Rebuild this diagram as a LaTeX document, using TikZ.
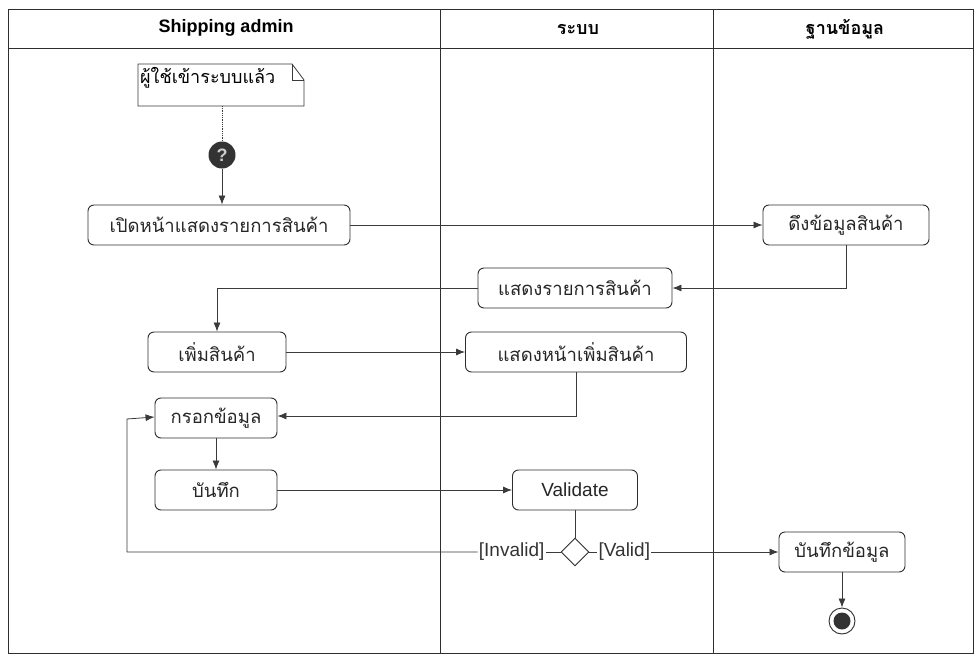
\documentclass[tikz,border=0pt]{standalone}
\usepackage{fontspec}
\setmainfont{Liberation Sans}
\newfontfamily\thai[Script=Thai]{Loma}
\usetikzlibrary{arrows.meta,shapes.geometric,calc}
\definecolor{ln}{HTML}{3A3A3A}
\definecolor{bx}{HTML}{2E2E2E}
\begin{document}
\begin{tikzpicture}[x=1pt,y=-1pt,
  lane/.style={draw=bx,line width=0.9pt},
  act/.style={draw=bx,line width=0.9pt,rounded corners=6pt,minimum height=40pt,inner sep=0pt,font=\thai\fontsize{18.5}{21}\selectfont,text=black!85},
  flow/.style={draw=ln,line width=0.8pt,-{Latex[length=9pt,width=7pt]}},
  plain/.style={draw=ln,line width=0.8pt},
  hdr/.style={font=\bfseries\fontsize{18}{20}\selectfont},
  thdr/.style={font=\thai\bfseries\fontsize{18}{20}\selectfont},
  guard/.style={inner sep=1pt,font=\fontsize{19}{21}\selectfont,text=black!80}
]
\useasboundingbox (0,0) rectangle (975,656);
\fill[white] (0,0) rectangle (975,656);
% swimlanes
\draw[lane] (8,9) rectangle (973,653);
\draw[lane] (8,48) -- (973,48);
\draw[lane] (440,9) -- (440,653);
\draw[lane] (713,9) -- (713,653);
\node[hdr] (h1) at (226,28) {Shipping admin};
\node[thdr] (h2) at (578,29) {ระบบ};
\node[thdr] (h3) at (845,29) {ฐานข้อมูล};
% note
\draw[plain] (138,64) -- (292,64) -- (304,80) -- (304,106) -- (138,106) -- cycle;
\draw[plain] (292,64) -- (292,80) -- (304,80);
\node[anchor=west,inner sep=0pt,font=\thai\fontsize{18}{20}\selectfont] (note) at (140,78) {ผู้ใช้เข้าระบบแล้ว};
\coordinate (nb) at (222,106);
% initial node
\node[circle,fill=black!80,minimum size=27pt,inner sep=0pt,text=white!80!black,font=\bfseries\fontsize{18}{18}\selectfont] (init) at (222,155) {?};
% activities
\node[act,minimum width=262pt] (A) at (219,225) {เปิดหน้าแสดงรายการสินค้า};
\node[act,minimum width=166pt] (B) at (846,225) {ดึงข้อมูลสินค้า};
\node[act,minimum width=194pt] (C) at (575,288) {แสดงรายการสินค้า};
\node[act,minimum width=138pt] (D) at (217,352) {เพิ่มสินค้า};
\node[act,minimum width=221pt] (E) at (576,352) {แสดงหน้าเพิ่มสินค้า};
\node[act,minimum width=122pt] (F) at (216,418) {กรอกข้อมูล};
\node[act,minimum width=122pt] (G) at (216,490) {บันทึก};
\node[act,minimum width=125pt,font=\fontsize{19}{21}\selectfont] (H) at (575,490) {Validate};
\node[diamond,draw=bx,line width=0.9pt,minimum width=28pt,minimum height=28pt,inner sep=0pt,fill=white] (dec) at (575,552) {};
\node[act,minimum width=126pt] (I) at (842,552) {บันทึกข้อมูล};
\node[circle,draw=bx,line width=0.9pt,minimum size=26pt,inner sep=0pt] (fin) at (842,621) {};
\node[circle,fill=black!80,minimum size=17pt,inner sep=0pt] (finin) at (fin) {};
\node[guard,anchor=east] (inv) at ([xshift=-15pt]dec.west) {[Invalid]};
\node[guard,anchor=west] (val) at ([xshift=8pt]dec.east) {[Valid]};
% connectors
\draw[plain,densely dotted] (nb) -- (init.north);
\draw[flow] (init.south) -- (init.south |- A.north);
\draw[flow] (A.east) -- (B.west);
\draw[flow] (B.south) |- (C.east);
\draw[flow] (C.west) -| (D.north);
\draw[flow] (D.east) -- (E.west);
\draw[flow] (E.south) |- ([yshift=2pt]F.east);
\draw[flow] (F.south) -- (G.north);
\draw[flow] (G.east) -- (H.west);
\draw[plain] (H.south) -- (dec.north);
\draw[plain] (dec.west) -- (inv.east);
\draw[flow] (inv.west) -- (127,552) -- (127,419) -- ([yshift=1pt]F.west);
\draw[plain] (dec.east) -- (val.west);
\draw[flow] (val.east) -- (val.east -| I.west);
\draw[flow] (I.south) -- (fin.north);
\end{tikzpicture}
\end{document}
